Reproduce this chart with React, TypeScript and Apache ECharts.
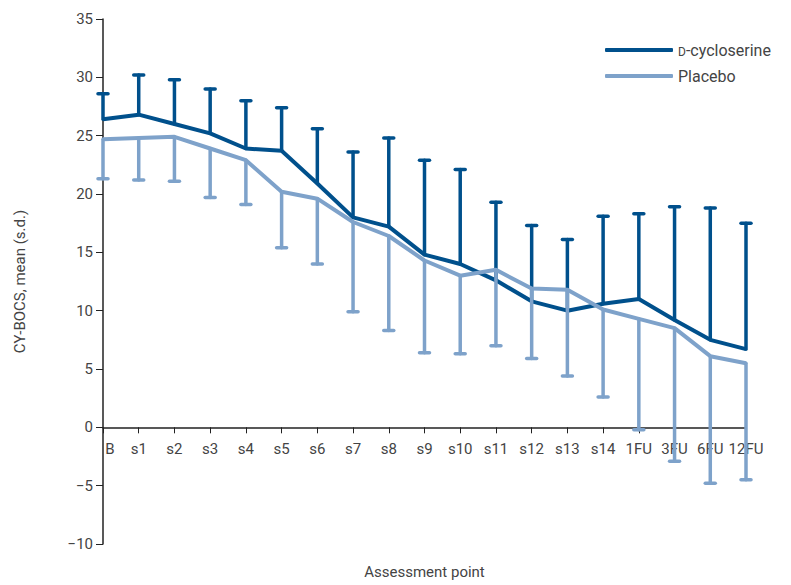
import React, { useEffect, useRef } from "react";
import * as echarts from "echarts";

const categories = ["B", "s1", "s2", "s3", "s4", "s5", "s6", "s7", "s8", "s9", "s10", "s11", "s12", "s13", "s14", "1FU", "3FU", "6FU", "12FU"];
const dcsMean = [26.4, 26.8, 26.0, 25.2, 23.9, 23.7, 20.9, 18.0, 17.2, 14.8, 14.0, 12.6, 10.8, 10.0, 10.6, 11.0, 9.2, 7.5, 6.7];
const dcsUpper = [28.6, 30.2, 29.8, 29.0, 28.0, 27.4, 25.6, 23.6, 24.8, 22.9, 22.1, 19.3, 17.3, 16.1, 18.1, 18.3, 18.9, 18.8, 17.5];
const plcMean = [24.7, 24.8, 24.9, 23.9, 22.9, 20.2, 19.6, 17.6, 16.4, 14.3, 13.0, 13.5, 11.9, 11.8, 10.1, 9.3, 8.5, 6.1, 5.5];
const plcLower = [21.3, 21.2, 21.1, 19.7, 19.1, 15.4, 14.0, 9.9, 8.3, 6.4, 6.3, 7.0, 5.9, 4.4, 2.6, -0.2, -2.9, -4.8, -4.5];
const yTicks = { min: -10, max: 35, interval: 5 };

const DARK = "#00508c";
const LIGHT = "#7ea2ca";
const FONT = "Roboto, 'Liberation Sans', sans-serif";
const TEXT = "#444";

const GRID = { left: 103, right: 45, top: 19, bottom: 41 };
const PLOT_H = 585 - GRID.top - GRID.bottom;
const ZERO_OFFSET = -((0 - yTicks.min) / (yTicks.max - yTicks.min)) * PLOT_H;

function errorRender(color: string) {
  return (params: any, api: any) => {
    const idx = api.value(0);
    const mean = api.value(1);
    const bound = api.value(2);
    const p1 = api.coord([idx, mean]);
    const p2 = api.coord([idx, bound]);
    const style = { stroke: color, lineWidth: 3.5, lineCap: "round" };
    return {
      type: "group",
      children: [
        { type: "line", shape: { x1: p1[0], y1: p1[1], x2: p2[0], y2: p2[1] }, style },
        { type: "line", shape: { x1: p2[0] - 5, y1: p2[1], x2: p2[0] + 5, y2: p2[1] }, style },
      ],
    };
  };
}

export default function App() {
  const ref = useRef<HTMLDivElement>(null);
  useEffect(() => {
    if (!ref.current) return;
    const chart = echarts.init(ref.current, null, { renderer: "svg" });
    chart.setOption({
      animation: false,
      backgroundColor: "#fff",
      textStyle: { fontFamily: FONT },
      grid: { ...GRID, containLabel: false, outerBoundsMode: "none" },
      legend: {
        left: 600,
        top: 35,
        orient: "vertical",
        itemWidth: 68,
        itemHeight: 4,
        itemGap: 6,
        icon: "roundRect",
        textStyle: {
          fontSize: 16,
          lineHeight: 20,
          color: TEXT,
          fontFamily: FONT,
          rich: { sc: { fontSize: 12, lineHeight: 20, color: TEXT, fontFamily: FONT, verticalAlign: "bottom", padding: [0, 0, 2, 0] } },
        },
        formatter: (name: string) => (name === "D-cycloserine" ? "{sc|D}-cycloserine" : name),
        data: [
          { name: "D-cycloserine", itemStyle: { color: DARK } },
          { name: "Placebo", itemStyle: { color: LIGHT } },
        ],
      },
      xAxis: {
        type: "category",
        data: categories,
        boundaryGap: false,
        position: "bottom",
        offset: ZERO_OFFSET,
        name: "Assessment point",
        nameLocation: "middle",
        nameGap: 137,
        nameTextStyle: { fontSize: 15, color: TEXT, fontFamily: FONT },
        axisLine: { onZero: false, lineStyle: { color: "#222", width: 1.5 } },
        axisTick: { show: true, length: 6, lineStyle: { color: "#222", width: 1 } },
        axisLabel: {
          fontSize: 15,
          color: TEXT,
          margin: 14,
          interval: 0,
          fontFamily: FONT,
          formatter: (v: string, i: number) => (i === 0 ? "{first|" + v + "}" : v),
          rich: { first: { fontSize: 15, color: TEXT, fontFamily: FONT, padding: [0, 0, 0, 14] } },
        },
        splitLine: { show: false },
      },
      yAxis: {
        type: "value",
        min: yTicks.min,
        max: yTicks.max,
        interval: yTicks.interval,
        name: "CY-BOCS, mean (s.d.)",
        nameLocation: "middle",
        nameGap: 76,
        nameTextStyle: { fontSize: 15, color: TEXT, fontFamily: FONT },
        axisLine: { show: true, lineStyle: { color: "#222", width: 1.5 } },
        axisTick: { show: true, length: 7, lineStyle: { color: "#222", width: 1 } },
        axisLabel: {
          fontSize: 15,
          color: TEXT,
          margin: 10,
          fontFamily: FONT,
          formatter: (v: number) => (v < 0 ? "\u2212" + Math.abs(v) : String(v)),
        },
        splitLine: { show: false },
      },
      series: [
        {
          name: "D-cycloserine",
          type: "line",
          data: dcsMean,
          symbol: "none",
          lineStyle: { color: DARK, width: 4 },
          itemStyle: { color: DARK },
          z: 3,
        },
        {
          name: "D-cycloserine err",
          type: "custom",
          renderItem: errorRender(DARK),
          data: dcsMean.map((m, i) => [i, m, dcsUpper[i]]),
          encode: { x: 0, y: [1, 2] },
          z: 3,
        },
        {
          name: "Placebo",
          type: "line",
          data: plcMean,
          symbol: "none",
          lineStyle: { color: LIGHT, width: 4 },
          itemStyle: { color: LIGHT },
          z: 4,
        },
        {
          name: "Placebo err",
          type: "custom",
          renderItem: errorRender(LIGHT),
          data: plcMean.map((m, i) => [i, m, plcLower[i]]),
          encode: { x: 0, y: [1, 2] },
          z: 4,
        },
      ],
    });
    return () => chart.dispose();
  }, []);
  return <div ref={ref} style={{ width: 791, height: 585, position: "absolute", left: 0, top: 0 }} />;
}
